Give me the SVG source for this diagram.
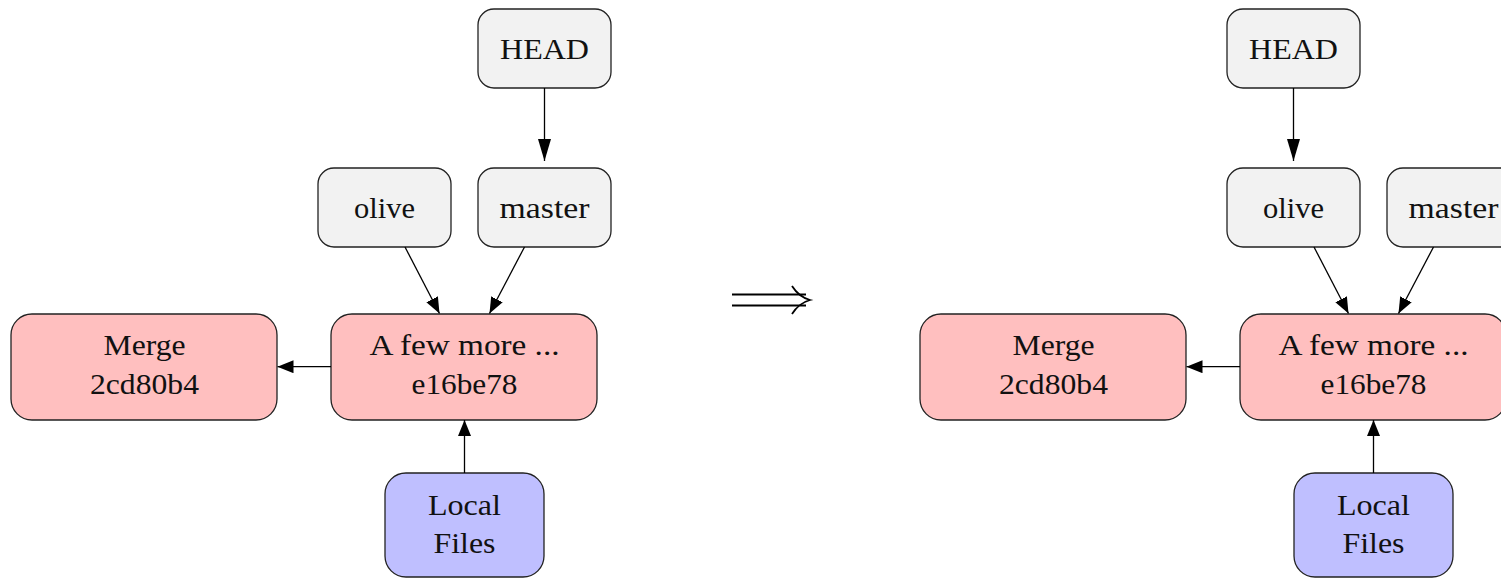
<svg xmlns="http://www.w3.org/2000/svg" width="1501" height="578" viewBox="0 0 1501 578">
<style>
.box{stroke:#222;stroke-width:1.3}
.ref{fill:#f2f2f2}
.commit{fill:#ffbfbf}
.local{fill:#bfbfff}
text{font-family:"Liberation Serif","Times New Roman",serif;font-size:30px;fill:#111;text-anchor:middle}
.edge{stroke:#000;stroke-width:1.3;fill:none}
</style>
<defs>
<marker id="ah" markerUnits="userSpaceOnUse" markerWidth="16" markerHeight="13" refX="16" refY="6.5" orient="auto">
<path d="M0,0 L16,6.5 L0,13 z" fill="#000"/>
</marker>
<marker id="ahl" markerUnits="userSpaceOnUse" markerWidth="22" markerHeight="13" refX="22" refY="6.5" orient="auto">
<path d="M0,0 L22,6.5 L0,13 z" fill="#000"/>
</marker>
</defs>

<!-- Left diagram -->
<g id="L_head"><rect class="box ref" x="478" y="9" width="133" height="79" rx="16"/><text x="544.5" y="59" textLength="89" lengthAdjust="spacingAndGlyphs">HEAD</text></g>
<g id="L_olive"><rect class="box ref" x="318" y="168" width="133" height="79" rx="16"/><text x="384.5" y="218" textLength="61" lengthAdjust="spacingAndGlyphs">olive</text></g>
<g id="L_master"><rect class="box ref" x="478" y="168" width="133" height="79" rx="16"/><text x="544.5" y="218" textLength="90" lengthAdjust="spacingAndGlyphs">master</text></g>
<g id="L_merge"><rect class="box commit" x="11" y="314" width="266" height="106" rx="21"/><text x="144.5" y="355" textLength="82" lengthAdjust="spacingAndGlyphs">Merge</text><text x="144.5" y="394" textLength="109" lengthAdjust="spacingAndGlyphs">2cd80b4</text></g>
<g id="L_commit"><rect class="box commit" x="331" y="314" width="266" height="106" rx="21"/><text x="464.5" y="355" textLength="190" lengthAdjust="spacingAndGlyphs">A few more ...</text><text x="464.5" y="394" textLength="106" lengthAdjust="spacingAndGlyphs">e16be78</text></g>
<g id="L_local"><rect class="box local" x="385" y="473" width="159" height="104" rx="21"/><text x="464.5" y="515" textLength="73" lengthAdjust="spacingAndGlyphs">Local</text><text x="464.5" y="553" textLength="62" lengthAdjust="spacingAndGlyphs">Files</text></g>

<!-- Right diagram -->
<g id="R_head"><rect class="box ref" x="1227" y="9" width="133" height="79" rx="16"/><text x="1293.5" y="59" textLength="89" lengthAdjust="spacingAndGlyphs">HEAD</text></g>
<g id="R_olive"><rect class="box ref" x="1227" y="168" width="133" height="79" rx="16"/><text x="1293.5" y="218" textLength="61" lengthAdjust="spacingAndGlyphs">olive</text></g>
<g id="R_master"><rect class="box ref" x="1387" y="168" width="133" height="79" rx="16"/><text x="1453.5" y="218" textLength="90" lengthAdjust="spacingAndGlyphs">master</text></g>
<g id="R_merge"><rect class="box commit" x="920" y="314" width="266" height="106" rx="21"/><text x="1053.5" y="355" textLength="82" lengthAdjust="spacingAndGlyphs">Merge</text><text x="1053.5" y="394" textLength="109" lengthAdjust="spacingAndGlyphs">2cd80b4</text></g>
<g id="R_commit"><rect class="box commit" x="1240" y="314" width="266" height="106" rx="21"/><text x="1373.5" y="355" textLength="190" lengthAdjust="spacingAndGlyphs">A few more ...</text><text x="1373.5" y="394" textLength="106" lengthAdjust="spacingAndGlyphs">e16be78</text></g>
<g id="R_local"><rect class="box local" x="1294" y="473" width="159" height="104" rx="21"/><text x="1373.5" y="515" textLength="73" lengthAdjust="spacingAndGlyphs">Local</text><text x="1373.5" y="553" textLength="62" lengthAdjust="spacingAndGlyphs">Files</text></g>

<!-- Connectors -->
<g id="connectors">
<line class="edge" x1="544.5" y1="88" x2="544.5" y2="161" marker-end="url(#ahl)"/>
<line class="edge" x1="405" y1="247" x2="439.5" y2="313.5" marker-end="url(#ah)"/>
<line class="edge" x1="524.5" y1="247" x2="489.5" y2="313.5" marker-end="url(#ah)"/>
<line class="edge" x1="331" y1="366.7" x2="277.5" y2="366.7" marker-end="url(#ah)"/>
<line class="edge" x1="464.5" y1="473" x2="464.5" y2="420" marker-end="url(#ah)"/>

<line class="edge" x1="1293.5" y1="88" x2="1293.5" y2="161" marker-end="url(#ahl)"/>
<line class="edge" x1="1314" y1="247" x2="1348.5" y2="313.5" marker-end="url(#ah)"/>
<line class="edge" x1="1433.5" y1="247" x2="1398.5" y2="313.5" marker-end="url(#ah)"/>
<line class="edge" x1="1240" y1="366.7" x2="1186.5" y2="366.7" marker-end="url(#ah)"/>
<line class="edge" x1="1373.5" y1="473" x2="1373.5" y2="420" marker-end="url(#ah)"/>
</g>

<!-- Transition arrow -->
<g id="implies" fill="none" stroke="#000" stroke-width="1.8">
<path d="M732,294.5 H806 M732,305.5 H806"/>
<path d="M792,286 Q799,297 810,300 Q799,303 792,314"/>
</g>
</svg>
